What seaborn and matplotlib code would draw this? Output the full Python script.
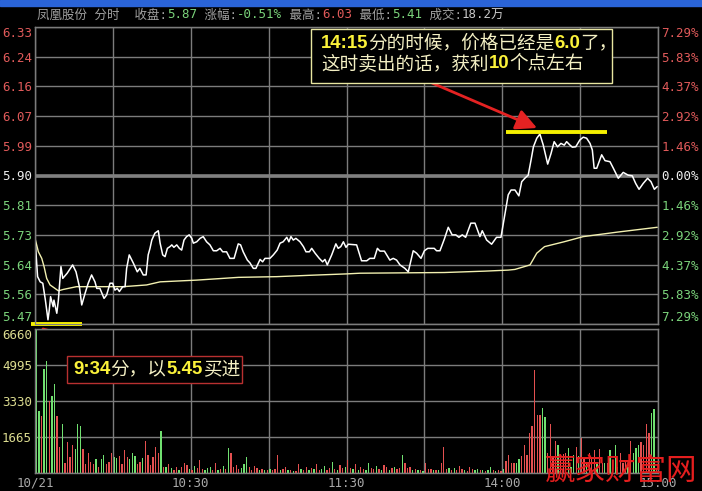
import numpy as np
import pandas as pd
import matplotlib
matplotlib.use("Agg")
import matplotlib.pyplot as plt
import seaborn as sns
from matplotlib.patches import Rectangle

# ---------------- data ----------------
pre_close = 5.90
pct_ticks = [-7.29, -5.83, -4.37, -2.92, -1.46, 0.0, 1.46, 2.92, 4.37, 5.83, 7.29]
price_labels = ["5.47", "5.56", "5.64", "5.73", "5.81", "5.90", "5.99", "6.07", "6.16", "6.24", "6.33"]
pct_labels = ["7.29%", "5.83%", "4.37%", "2.92%", "1.46%", "0.00%", "1.46%", "2.92%", "4.37%", "5.83%", "7.29%"]

vol_ticks = [0, 1665, 3330, 4995, 6660]
vol_labels = ["", "1665", "3330", "4995", "6660"]

grid_minutes = [0, 30, 60, 90, 120, 150, 180, 210, 240]
time_labels = ["10/21", "", "10:30", "", "11:30", "", "14:00", "", "15:00"]

# minute-line price (minutes since 9:30, lunch break removed)
price_t = [0, 1, 2, 3, 4, 5, 5.5, 6, 7, 7.3,
           8.4, 9, 10, 10.7, 12.4, 14.5, 15.8, 17.1, 18, 19.3,
           20.5, 21.8, 23.1, 23.8, 25, 26.6, 27.6, 28.9, 29.9, 30.8,
           31.7, 32.5, 33.8, 34.7, 35.3, 36.3, 37.9, 39.4, 40.4, 41.7,
           42.8, 43.6, 44.3, 45, 46.2, 47.5, 48.2, 49.2, 50.1, 51,
           52, 52.7, 53.5, 54.6, 55.6, 56.5, 57.4, 58.4, 59.4, 60.4,
           61, 62.3, 63.6, 64.8, 66.1, 67.4, 68.7, 70, 71.3, 72.3,
           73.8, 75.1, 76.7, 78.3, 79.2, 80.2, 81.8, 82.8, 84.1, 85.1,
           86.7, 87.7, 88.6, 90.5, 91.8, 93.3, 94.4, 95.6, 97, 97.8,
           98.6, 99.5, 100.5, 102.1, 103.4, 104.4, 105.7, 106.6, 107.9, 109.5,
           110.8, 111.7, 112.6, 114.3, 115.9, 116.8, 117.8, 118.8, 119.8, 120.7,
           123.9, 125.8, 127.8, 129, 130.7, 131.9, 132.9, 134.6, 136.7, 138,
           139.3, 140.6, 142.5, 143.8, 145.7, 147, 148.7, 150, 151.3, 153.8,
           154.7, 156, 157.7, 159.2, 160.7, 162.1, 163.3, 164.6, 165.9, 167.9,
           169.5, 171.4, 172.3, 174, 175.9, 177.8, 179.5, 181, 182.3, 183.4,
           184.9, 186.4, 187.5, 188.7, 190, 191.1, 192, 193.3, 194.5, 195.8,
           197.5, 198.8, 200, 201.3, 202.6, 203.9, 204.8, 206.1, 207, 208.3,
           209.9, 211.2, 212.5, 213.8, 214.7, 215.4, 216.4, 218.3, 219.6, 221.5,
           222.8, 224.7, 226.6, 228.5, 230.1, 231.4, 232.7, 234.3, 236, 237.3,
           238.6, 239.7]
price = [5.718, 5.607, 5.592, 5.588, 5.539, 5.482, 5.511, 5.549, 5.52, 5.539,
         5.501, 5.539, 5.636, 5.602, 5.617, 5.641, 5.621, 5.578, 5.525, 5.559,
         5.588, 5.612, 5.592, 5.573, 5.573, 5.544, 5.554, 5.588, 5.588, 5.568,
         5.573, 5.564, 5.578, 5.578, 5.631, 5.67, 5.646, 5.621, 5.631, 5.612,
         5.612, 5.67, 5.689, 5.713, 5.733, 5.74, 5.704, 5.67, 5.665, 5.689,
         5.694, 5.699, 5.692, 5.699, 5.689, 5.684, 5.713, 5.723, 5.728, 5.718,
         5.704, 5.708, 5.718, 5.723, 5.708, 5.699, 5.682, 5.682, 5.689, 5.679,
         5.679, 5.66, 5.66, 5.702, 5.699, 5.679, 5.655, 5.647, 5.631, 5.631,
         5.657, 5.65, 5.66, 5.66, 5.67, 5.684, 5.704, 5.708, 5.721, 5.708,
         5.723, 5.713, 5.718, 5.708, 5.694, 5.679, 5.679, 5.689, 5.675, 5.66,
         5.65, 5.657, 5.641, 5.67, 5.702, 5.689, 5.694, 5.708, 5.692, 5.701,
         5.699, 5.653, 5.653, 5.66, 5.66, 5.689, 5.681, 5.681, 5.655, 5.66,
         5.655, 5.641, 5.631, 5.621, 5.682, 5.675, 5.66, 5.682, 5.689, 5.689,
         5.682, 5.682, 5.716, 5.75, 5.728, 5.728, 5.721, 5.728, 5.721, 5.762,
         5.762, 5.723, 5.74, 5.713, 5.701, 5.721, 5.721, 5.786, 5.844, 5.858,
         5.858, 5.841, 5.882, 5.892, 5.901, 5.945, 5.983, 6.008, 6.02, 5.988,
         5.933, 5.964, 5.998, 5.983, 5.993, 5.988, 5.998, 5.988, 5.982, 5.983,
         6.003, 6.011, 6.008, 5.993, 5.974, 5.921, 5.921, 5.96, 5.943, 5.94,
         5.921, 5.892, 5.909, 5.901, 5.899, 5.877, 5.86, 5.877, 5.892, 5.882,
         5.86, 5.868]

# average-price line
avg_t = [0, 1.3, 2.6, 3.5, 4.5, 5.8, 7.7, 9, 10.9, 16, 24, 34, 43, 48.2, 62.3, 78.4,
         93.1, 105.9, 120, 125.2, 157.7, 173.3, 182.3, 184.9, 190.7, 193.3, 196.3,
         203.8, 211.2, 224.3, 239.7]
avg_price = [5.718, 5.679, 5.66, 5.636, 5.602, 5.583, 5.573, 5.566, 5.57, 5.578, 5.578,
             5.578, 5.583, 5.592, 5.597, 5.605, 5.607, 5.611, 5.615, 5.617, 5.619, 5.623,
             5.626, 5.628, 5.641, 5.675, 5.694, 5.708, 5.723, 5.736, 5.75]

# per-minute volume (hands) and direction (R up / G down)
volume = [6614, 2881, 2636, 4796, 5180, 3344, 3561, 4116, 2636, 1216,
          2252, 449, 1420, 726, 1295, 1096, 2252, 2174, 1110, 416,
          911, 495, 416, 648, 264, 634, 833, 416, 524, 940,
          755, 678, 786, 416, 1064, 755, 634, 940, 786, 416,
          524, 709, 1480, 833, 370, 755, 1218, 940, 1958, 293,
          262, 416,
          220, 150, 300, 120, 260, 450, 380, 200, 150, 330,
          250, 620, 180, 120, 210, 300, 160, 470, 150, 200,
          330, 180, 1140, 910, 300, 370, 180, 220, 400, 755,
          300, 150, 320, 230, 140, 180, 160, 120, 200, 150,
          170, 830, 130, 180, 300, 140, 120, 100, 110, 420,
          200, 150, 300, 120, 250, 180, 400, 150, 200, 330,
          150, 250, 500, 200, 150, 350, 220, 300, 600, 250,
          180, 400, 150, 300, 200, 130, 450, 250, 170, 320,
          200, 150, 380, 260, 140, 220, 300, 180, 250,
          832, 449, 247, 293, 139, 200, 120, 150, 100, 449,
          200, 170, 130, 120, 160, 449, 1188, 200, 216, 120,
          216, 150, 324, 200, 150, 110, 293, 200, 130, 170,
          120, 150, 100, 150, 293, 120, 100, 139, 110, 200,
          570, 833, 478, 449, 478, 634, 786, 1295, 833, 1834,
          2174, 4764, 2683, 2683, 2992, 2604, 911, 2266, 755, 1494,
          1295, 678, 879, 911, 1142, 293, 833, 1218, 786, 1634,
          755, 449, 911, 678, 1064, 449, 1094, 449, 449, 449,
          1064, 602, 1295, 293, 911, 449, 602, 293, 1480, 911,
          1142, 1295, 1449, 1295, 2266, 1834, 2761, 2946, 200]
direction = list(
    "GGRGGRGGRR" "GRRRRGGGRR" "RRRGRGGRRR" "GGRRRRGGGR" "RGRRRRRRGR" "GR"
    "GRRGRRRGRG" "RRRGGGRRGR" "GRGRRRRGGG" "RRRRGRGRGR" "RRGRRGRGRR"
    "GRRGRGRRGG" "RRGRGRRGRR" "GRGRRGGRRG" "RGRRGRGRR"
    "GRRRGRGRGR" "RRGRGRRRGR" "GRRRGRRRGG" "RGRGGRGRRG" "RRRRGGRRRR"
    "RRRRGGRRRR" "GRRRGGGRGR" "RGRRRGRRGR" "GRGGRRRGRG" "GGRRRRGGR")

# annotation levels
sell_level, sell_span = 6.025, (181.5, 220.5)
buy_level, buy_span = 5.47, (-1.5, 18.0)

# ---------------- style ----------------
sns.set_style("dark")
plt.rcParams["font.family"] = ["DejaVu Sans Mono", "Noto Sans CJK SC"]
W, H = 702, 491
BG = "black"
GRID = "#7c7c7c"
RED = "#e05a5a"
GREEN = "#7ad27a"
WHITE = "#eeeeee"
CREAM = "#dcdc90"
XGRAY = "#a8a8a8"

fig = plt.figure(figsize=(W / 100, H / 100), dpi=100, facecolor=BG)


def px_axes(l, t, r, b):
    return fig.add_axes([l / W, 1 - b / H, (r - l) / W, (b - t) / H])


axp = px_axes(35, 27, 658, 324)
axv = px_axes(35, 329, 658, 473)

lo = pre_close * (1 + pct_ticks[0] / 100)
hi = pre_close * (1 + pct_ticks[-1] / 100)
price_ticks = [pre_close * (1 + p / 100) for p in pct_ticks]

for ax in (axp, axv):
    ax.set_facecolor(BG)
    ax.set_axisbelow(True)
    for s in ax.spines.values():
        s.set_color(GRID)
        s.set_linewidth(1)
        s.set_visible(True)
    ax.grid(True, color=GRID, lw=1)

# price panel
df_p = pd.DataFrame({"t": price_t, "p": price})
df_a = pd.DataFrame({"t": avg_t, "p": avg_price})
axp.axhline(pre_close, color="#808080", lw=2.6, zorder=1.5)
sns.lineplot(data=df_a, x="t", y="p", ax=axp, color="#f2f0b0", lw=1.0, zorder=3)
sns.lineplot(data=df_p, x="t", y="p", ax=axp, color="white", lw=1.1, zorder=4)
axp.set_xlim(0, 240)
axp.set_ylim(lo, hi)
axp.set_xticks(grid_minutes)
axp.set_xticklabels([])
axp.set_yticks(price_ticks)
axp.set_yticklabels(price_labels)
axp.tick_params(length=0, labelsize=9, pad=2.2)
axp.set_xlabel("")
axp.set_ylabel("")

axr = axp.twinx()
axr.set_ylim(lo, hi)
axr.set_yticks(price_ticks)
axr.set_yticklabels(pct_labels)
axr.tick_params(length=0, labelsize=9, pad=2.2)
axr.grid(False)
for s in axr.spines.values():
    s.set_color(GRID)

for a in (axp, axr):
    lbls = a.get_yticklabels()
    for lbl, p in zip(lbls, pct_ticks):
        lbl.set_color(RED if p > 0 else (WHITE if p == 0 else GREEN))
    lbls[0].set_verticalalignment("bottom")
    lbls[-1].set_verticalalignment("top")

# yellow marker lines
axp.hlines(sell_level, *sell_span, color="#f5f000", lw=2.8, zorder=6, clip_on=False)
axp.hlines(buy_level, *buy_span, color="#f5f000", lw=2.8, zorder=6, clip_on=False)

# volume panel
df_v = pd.DataFrame({"t": np.arange(len(volume)) + 0.5, "v": volume, "d": direction})
sns.barplot(data=df_v, x="t", y="v", hue="d", palette={"R": "#e45050", "G": "#70e070"},
            native_scale=True, dodge=False, width=0.5, legend=False, errorbar=None,
            saturation=1, linewidth=0, ax=axv)
axv.set_xlim(0, 240)
axv.set_ylim(0, 6660)
axv.set_yticks(vol_ticks)
axv.set_yticklabels(vol_labels)
axv.set_xticks(grid_minutes)
axv.set_xticklabels(time_labels)
axv.tick_params(length=0, labelsize=9, pad=2.2)
axv.tick_params(axis="x", pad=2.8)
axv.set_xlabel("")
axv.set_ylabel("")
for lbl in axv.get_yticklabels():
    lbl.set_color(CREAM)
axv.get_yticklabels()[-1].set_verticalalignment("top")
for lbl in axv.get_xticklabels():
    lbl.set_color(XGRAY)

# ---------------- decorations ----------------
fig.add_artist(Rectangle((0, 1 - 6 / H), 1, 6 / H, transform=fig.transFigure,
                         color="#2a64d8", zorder=10))

renderer = fig.canvas.get_renderer()


def chain(x_px, y_px, pieces, size, zorder=12):
    x = x_px
    for s, color, bold, fam in pieces:
        t = fig.text(x / W, 1 - y_px / H, s, color=color, fontsize=size,
                     fontweight="bold" if bold else "normal", family=fam,
                     ha="left", va="center", zorder=zorder)
        x += t.get_window_extent(renderer).width
    return x


MONO = ["DejaVu Sans Mono", "Noto Sans CJK SC"]
TGRAY = "#a0a0a0"
chain(37, 15, [("凤凰股份 分时  收盘:", TGRAY, False, MONO), ("5.87", GREEN, False, MONO),
               (" 涨幅:", TGRAY, False, MONO), ("-0.51%", GREEN, False, MONO),
               (" 最高:", TGRAY, False, MONO), ("6.03", RED, False, MONO),
               (" 最低:", TGRAY, False, MONO), ("5.41", GREEN, False, MONO),
               (" 成交:", TGRAY, False, MONO), ("18.2万", "#c8c8c8", False, MONO)], 9)

YEL = "#fbf23a"
CR = "#f4f0c4"
NUM = ["Liberation Sans", "Noto Sans CJK SC"]
CJK = ["Noto Sans CJK SC", "DejaVu Sans"]

# box 1
fig.add_artist(Rectangle((311 / W, 1 - 83 / H), 301 / W, 54 / H, transform=fig.transFigure,
                         facecolor=BG, edgecolor="#e8e6a0", lw=1, zorder=11))
chain(321, 43, [("14:15", YEL, True, NUM), ("分的时候，价格已经是", CR, False, CJK),
                ("6.0", YEL, True, NUM), ("了，", CR, False, CJK)], 13.4)
chain(321, 64, [("这时卖出的话，获利", CR, False, CJK), ("10", YEL, True, NUM),
                ("个点左右", CR, False, CJK)], 13.4)

# box 2
fig.add_artist(Rectangle((67 / W, 1 - 383 / H), 175 / W, 27 / H, transform=fig.transFigure,
                         facecolor=BG, edgecolor="#b83030", lw=1, zorder=11))
chain(73, 369, [("9:34", YEL, True, NUM), ("分，以", CR, False, CJK),
                ("5.45", YEL, True, NUM), ("买进", CR, False, CJK)], 13.4)

# arrows
arrow_kw = dict(arrowstyle="-|>,head_length=0.9,head_width=0.45", color="#e42222",
                lw=2, shrinkA=0, shrinkB=0, mutation_scale=14)
axp.annotate("", xy=(537, H - 128), xytext=(432, H - 83), xycoords="figure pixels",
             textcoords="figure pixels", arrowprops=arrow_kw, annotation_clip=False, zorder=13)
axp.annotate("", xy=(131, H - 352), xytext=(43, H - 329), xycoords="figure pixels",
             textcoords="figure pixels", arrowprops=arrow_kw, annotation_clip=False, zorder=13)

# watermark
fig.text(545 / W, 1 - 471 / H, "赢家财富网", color="#e41e1e", fontsize=22,
         family=CJK, ha="left", va="center", zorder=14)

fig.savefig("out.png", dpi=100, facecolor=BG)
